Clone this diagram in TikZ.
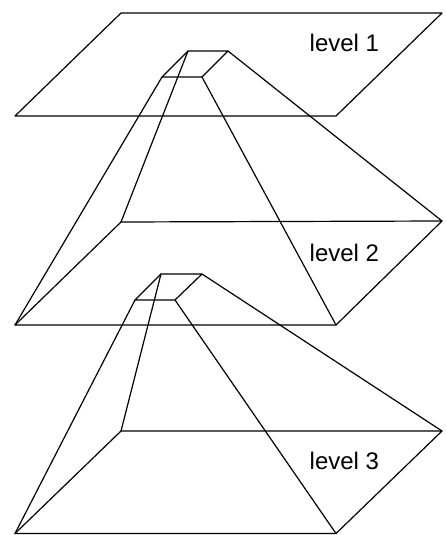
\documentclass[tikz,border=0pt]{standalone}
\usepackage{fontspec}
\setmainfont{Liberation Sans}
\begin{document}
\begin{tikzpicture}[x=1pt,y=-1pt,
  edge/.style={draw=black,line width=1.2pt,line join=round,line cap=round},
  lab/.style={inner sep=0pt,anchor=base west,font=\fontsize{24}{26}\selectfont,text=black}]
\useasboundingbox (0,0) rectangle (445,535);
% level 1
\coordinate (a1) at (121,13); \coordinate (b1) at (442,13);
\coordinate (c1) at (336,116); \coordinate (d1) at (15,116);
\draw[edge] (a1) -- (b1) -- (c1) -- (d1) -- cycle;
\node[lab] (l1) at (309.5,51.5) {level 1};
% level 2
\coordinate (a2) at (121,222); \coordinate (b2) at (442,221);
\coordinate (c2) at (336,325); \coordinate (d2) at (15,325);
\draw[edge] (a2) -- (b2) -- (c2) -- (d2) -- cycle;
\node[lab] (l2) at (309.5,261.5) {level 2};
% level 3
\coordinate (a3) at (121,431); \coordinate (b3) at (442,431);
\coordinate (c3) at (336,533.5); \coordinate (d3) at (15,533.5);
\draw[edge] (a3) -- (b3) -- (c3) -- (d3) -- cycle;
\node[lab] (l3) at (309.5,469) {level 3};
% upper frustum
\coordinate (p) at (188,51); \coordinate (q) at (228,51);
\coordinate (r) at (202,77); \coordinate (s) at (162,77);
\draw[edge] (p) -- (q) -- (r) -- (s) -- cycle;
\draw[edge] (s) -- (d2); \draw[edge] (p) -- (a2);
\draw[edge] (r) -- (c2); \draw[edge] (q) -- (b2);
% lower frustum
\coordinate (t) at (161,274); \coordinate (u) at (202,274);
\coordinate (v) at (175,300); \coordinate (w) at (135,300);
\draw[edge] (t) -- (u) -- (v) -- (w) -- cycle;
\draw[edge] (w) -- (d3); \draw[edge] (t) -- (a3);
\draw[edge] (v) -- (c3); \draw[edge] (u) -- (b3);
\end{tikzpicture}
\end{document}
